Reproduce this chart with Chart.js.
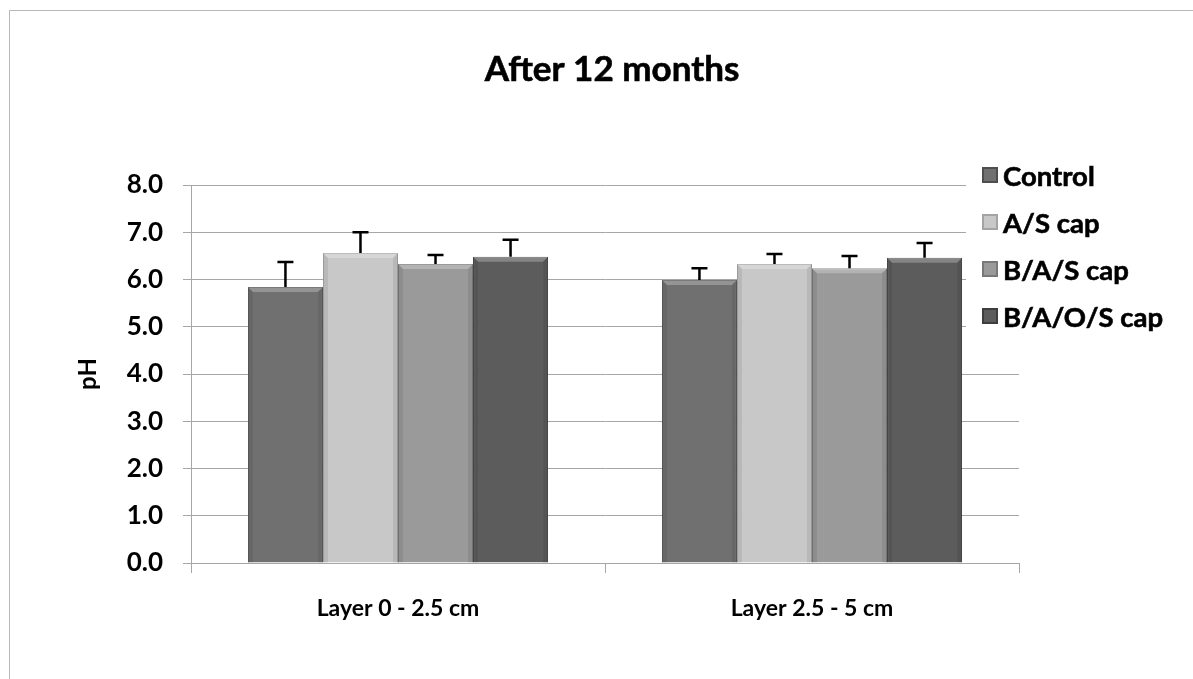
<!DOCTYPE html>
<html>
<head>
<meta charset="utf-8">
<script src="https://cdn.jsdelivr.net/npm/chart.js@4.4.1/dist/chart.umd.min.js"></script>
<style>
  html, body { margin: 0; padding: 0; background: #fff; }
  #wrap { position: relative; width: 1193px; height: 679px; overflow: hidden; }
  #frame { position: absolute; left: 9px; top: 10px; width: 1300px; height: 800px;
           border-top: 1.5px solid #b8b8b8; border-left: 1.5px solid #b8b8b8; pointer-events: none; }
  canvas { position: absolute; left: 0; top: 0; }
</style>
</head>
<body>
<div id="wrap">
  <canvas id="c" width="1193" height="679"></canvas>
  <div id="frame"></div>
</div>
<script>
const chartTitle = 'After 12 months';
const categories = ['Layer 0 - 2.5 cm', 'Layer 2.5 - 5 cm'];
const seriesNames = ['Control', 'A/S cap', 'B/A/S cap', 'B/A/O/S cap'];
const controlVals = [5.84, 5.99];
const asVals = [6.56, 6.33];
const basVals = [6.33, 6.24];
const baosVals = [6.48, 6.46];
const controlErr = [0.53, 0.25];
const asErr = [0.44, 0.21];
const basErr = [0.19, 0.26];
const baosErr = [0.36, 0.31];
const yTicks = [0, 1, 2, 3, 4, 5, 6, 7, 8];
const yTitle = 'pH';

const seriesColors = ['#707070', '#c8c8c8', '#9a9a9a', '#5c5c5c'];
const seriesBorders = ['#4e4e4e', '#a4a4a4', '#787878', '#3e3e3e'];
const allVals = [controlVals, asVals, basVals, baosVals];
const allErr = [controlErr, asErr, basErr, baosErr];

const FONT = 'Lato, "Open Sans", sans-serif';
const W = 'bold';

const errorBars = {
  id: 'errorBars',
  afterDatasetsDraw(chart) {
    const ctx = chart.ctx;
    const y = chart.scales.y;
    ctx.save();
    // bevel shading on each bar
    chart.data.datasets.forEach((ds, i) => {
      const meta = chart.getDatasetMeta(i);
      meta.data.forEach(bar => {
        const l = bar.x - bar.width / 2, r = bar.x + bar.width / 2;
        const t = bar.y, b = bar.base;
        const bw = 5;
        ctx.fillStyle = 'rgba(255,255,255,0.25)';
        ctx.beginPath();
        ctx.moveTo(l, t); ctx.lineTo(r, t); ctx.lineTo(r - bw, t + bw); ctx.lineTo(l + bw, t + bw);
        ctx.closePath(); ctx.fill();
        ctx.fillStyle = 'rgba(0,0,0,0.08)';
        ctx.beginPath();
        ctx.moveTo(l, t); ctx.lineTo(l + bw, t + bw); ctx.lineTo(l + bw, b); ctx.lineTo(l, b);
        ctx.closePath(); ctx.fill();
        ctx.beginPath();
        ctx.moveTo(r, t); ctx.lineTo(r - bw, t + bw); ctx.lineTo(r - bw, b); ctx.lineTo(r, b);
        ctx.closePath(); ctx.fill();
      });
    });
    ctx.strokeStyle = '#000';
    ctx.lineWidth = 2.5;
    chart.data.datasets.forEach((ds, i) => {
      const meta = chart.getDatasetMeta(i);
      meta.data.forEach((bar, j) => {
        const top = y.getPixelForValue(ds.data[j] + ds.err[j]);
        ctx.beginPath();
        ctx.moveTo(bar.x, bar.y);
        ctx.lineTo(bar.x, top);
        ctx.moveTo(bar.x - 8, top);
        ctx.lineTo(bar.x + 8, top);
        ctx.stroke();
      });
    });
    ctx.restore();
  }
};

const titleAndLegend = {
  id: 'titleAndLegend',
  afterDraw(chart) {
    const ctx = chart.ctx;
    ctx.save();
    ctx.fillStyle = '#000';
    ctx.strokeStyle = '#000';
    ctx.lineWidth = 0.6;
    ctx.font = W + ' 35px ' + FONT;
    ctx.textAlign = 'center';
    ctx.textBaseline = 'middle';
    ctx.fillText(chartTitle, 612, 70);
    ctx.strokeText(chartTitle, 612, 70);
    // legend
    ctx.fillStyle = '#fff';
    ctx.fillRect(966, 155, 227, 185);
    ctx.font = W + ' 27.5px ' + FONT;
    ctx.textAlign = 'left';
    chart.data.datasets.forEach((ds, i) => {
      const cy = 176 + i * 47;
      ctx.fillStyle = ds.borderColor;
      ctx.fillRect(982, cy - 9, 16, 16);
      ctx.fillStyle = ds.backgroundColor;
      ctx.fillRect(984, cy - 7, 12, 12);
      ctx.fillStyle = '#000';
      ctx.fillText(ds.label, 1003, cy + 1);
      ctx.strokeText(ds.label, 1003, cy + 1);
    });
    ctx.restore();
  }
};

new Chart(document.getElementById('c'), {
  type: 'bar',
  data: {
    labels: categories,
    datasets: seriesNames.map((name, i) => ({
      label: name,
      data: allVals[i],
      err: allErr[i],
      backgroundColor: seriesColors[i],
      borderColor: seriesBorders[i],
      borderWidth: 1,
      categoryPercentage: 0.725,
      barPercentage: 1.0
    }))
  },
  options: {
    responsive: false,
    animation: false,
    events: [],
    layout: { padding: { top: 185, left: 0, right: 174, bottom: 0 } },
    plugins: {
      legend: { display: false },
      title: { display: false },
      tooltip: { enabled: false }
    },
    scales: {
      x: {
        grid: { drawOnChartArea: false, drawTicks: true, tickLength: 10, color: '#a6a6a6' },
        border: { color: '#a6a6a6', width: 1 },
        ticks: { color: '#000', padding: 22, font: { family: FONT, size: 23, weight: W } },
        afterFit(scale) { scale.height = 116; }
      },
      y: {
        min: 0, max: 8,
        afterBuildTicks(scale) { scale.ticks = yTicks.map(v => ({ value: v })); },
        grid: { color: '#a6a6a6', tickLength: 8, lineWidth: 1 },
        border: { color: '#a6a6a6', width: 1 },
        ticks: {
          color: '#000', padding: 20,
          font: { family: FONT, size: 26, weight: W },
          callback: v => Number(v).toFixed(1)
        },
        title: {
          display: true, text: yTitle, color: '#000',
          font: { family: FONT, size: 24, weight: W },
          padding: { top: 74, bottom: 0 }
        },
        afterFit(scale) { scale.width = 191; }
      }
    }
  },
  plugins: [errorBars, titleAndLegend]
});
</script>
</body>
</html>
